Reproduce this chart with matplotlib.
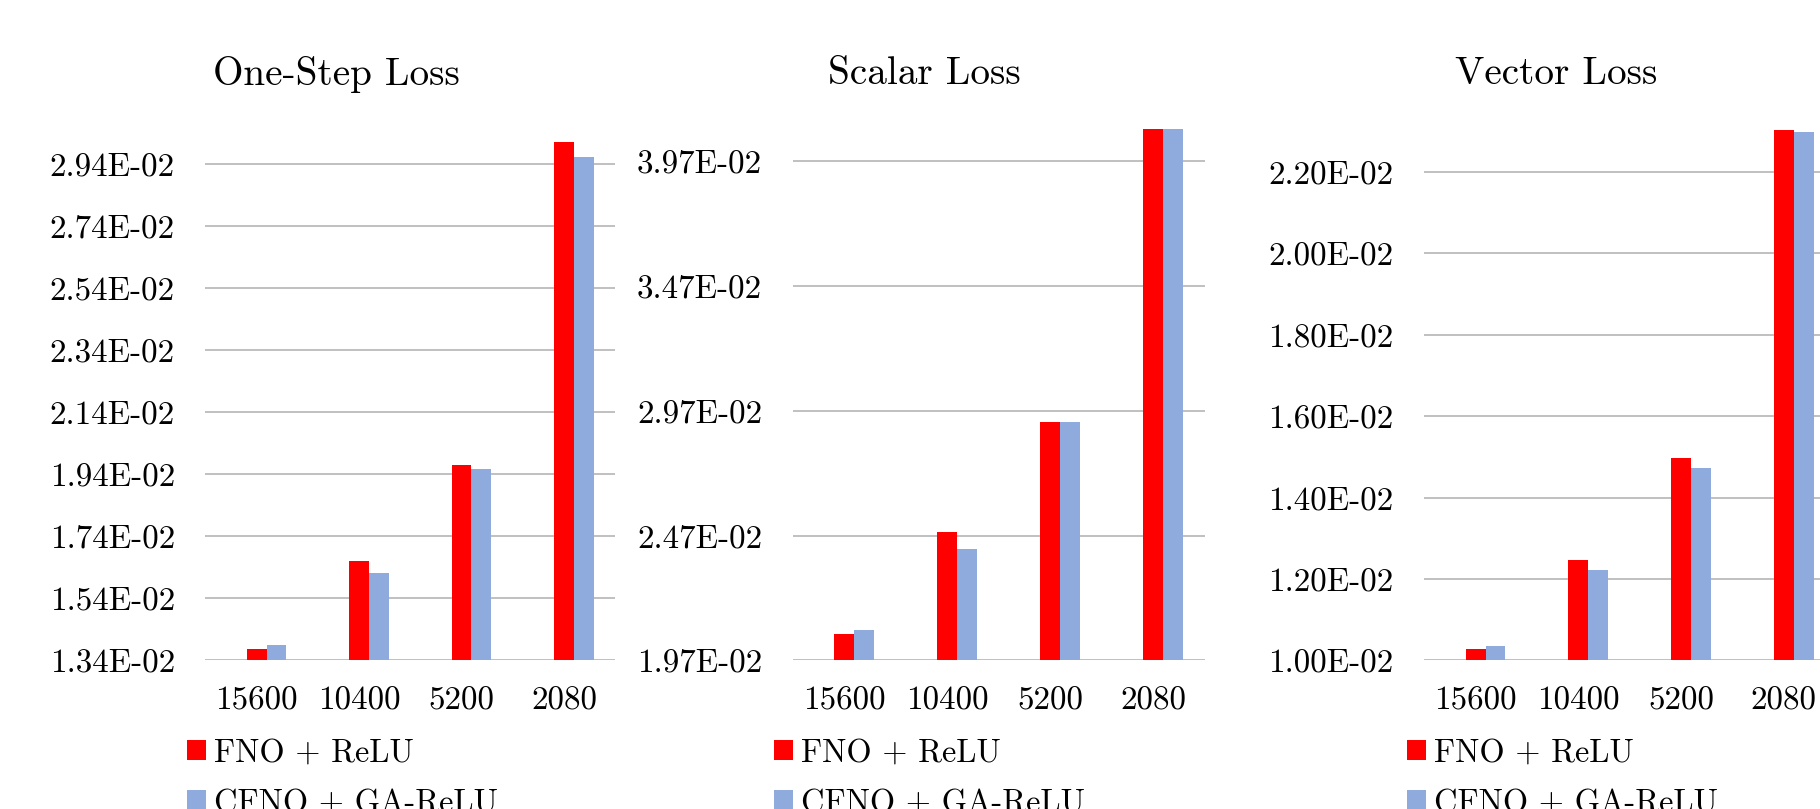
import matplotlib
matplotlib.use("Agg")
import matplotlib.pyplot as plt
from matplotlib.ticker import FixedLocator, FuncFormatter
from matplotlib.patches import Patch

plt.rcParams.update({
    "font.family": "cmr10",
    "axes.unicode_minus": False,
    "mathtext.fontset": "cm",
})

# categories (training samples) and loss values
SAMPLES = ["15600", "10400", "5200", "2080"]
SERIES = ["FNO + ReLU", "CFNO + GA-ReLU"]
COLORS = ["#ff0000", "#8faadc"]

ONESTEP_FNO = [0.01376, 0.01659, 0.01971, 0.03009]
ONESTEP_CFNO = [0.01389, 0.01621, 0.01956, 0.02960]
SCALAR_FNO = [0.02074, 0.02486, 0.02926, 0.04101]
SCALAR_CFNO = [0.02090, 0.02415, 0.02926, 0.04101]
VECTOR_FNO = [0.01027, 0.01247, 0.01497, 0.02302]
VECTOR_CFNO = [0.01036, 0.01223, 0.01473, 0.02298]

ONESTEP_TICKS = [0.0134, 0.0154, 0.0174, 0.0194, 0.0214, 0.0234, 0.0254, 0.0274, 0.0294]
SCALAR_TICKS = [0.0197, 0.0247, 0.0297, 0.0347, 0.0397]
VECTOR_TICKS = [0.010, 0.012, 0.014, 0.016, 0.018, 0.020, 0.022]

W, H = 1568.0, 697.0  # layout grid used for panel placement
panels = [
    # title, fno, cfno, ticks, ylim, (left, right), title x, legend x
    ("One-Step Loss", ONESTEP_FNO, ONESTEP_CFNO, ONESTEP_TICKS, (0.0134, 0.0310), (177, 530), 290, 161),
    ("Scalar Loss", SCALAR_FNO, SCALAR_CFNO, SCALAR_TICKS, (0.0197, 0.0420), (683, 1038), 796, 667),
    ("Vector Loss", VECTOR_FNO, VECTOR_CFNO, VECTOR_TICKS, (0.0100, 0.0235), (1227, 1581), 1341, 1212),
]
SCALES = [428 / 0.016, 430 / 0.020, 421 / 0.012]  # px per unit on the grid
BOTTOM = 569
BAR_W = 0.194

fig = plt.figure(figsize=(18.2, 8.09), dpi=100)

for (title, fno, cfno, ticks, ylim, (x0, x1), tx, lx), sc in zip(panels, SCALES):
    h = (ylim[1] - ylim[0]) * sc
    ax = fig.add_axes([x0 / W, (H - BOTTOM) / H, (x1 - x0) / W, h / H])
    xs = range(len(SAMPLES))
    ax.bar([x for x in xs], fno, BAR_W, color=COLORS[0], zorder=3)
    ax.bar([x + BAR_W for x in xs], cfno, BAR_W, color=COLORS[1], zorder=3)
    ax.set_xlim(-0.5, 3.5)
    ax.set_ylim(*ylim)
    ax.yaxis.set_major_locator(FixedLocator(ticks))
    ax.yaxis.set_major_formatter(FuncFormatter(lambda v, p: f"{v:.2E}"))
    ax.set_xticks(list(xs))
    ax.set_xticklabels(SAMPLES)
    ax.tick_params(axis="both", length=0, labelsize=23.8)
    ax.tick_params(axis="y", pad=22)
    ax.tick_params(axis="x", pad=19)
    ax.grid(axis="y", color="#bbbbbb", lw=1.3, zorder=0)
    for s in ax.spines.values():
        s.set_visible(False)
    ax.patch.set_alpha(0)

    fig.text(tx / W, 1 - 64 / H, title, ha="center", va="center", fontsize=28.2)

    handles = [Patch(facecolor=c) for c in COLORS]
    fig.legend(handles, SERIES, loc="upper left",
               bbox_to_anchor=(lx / W, 1 - 636 / H), frameon=False,
               fontsize=23.3, handlelength=0.58, handleheight=0.58,
               handletextpad=0.25, borderpad=0, borderaxespad=0,
               labelspacing=0.65)

fig.savefig("out.png", dpi=100)
